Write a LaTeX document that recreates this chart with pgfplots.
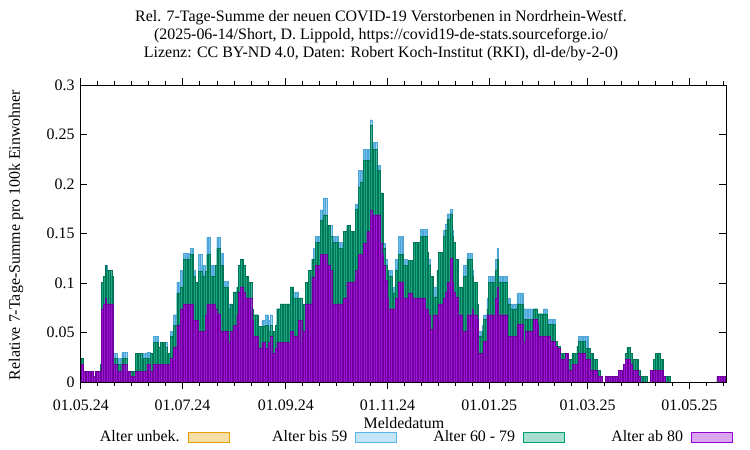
\documentclass[border=0pt]{standalone}
\usepackage{pgfplots}
\pgfplotsset{compat=1.18}
\usepackage{pgfplotstable}
\usepackage{fontspec}
\setmainfont{Liberation Serif}
\definecolor{vio}{HTML}{9400D3}
\definecolor{grn}{HTML}{009E73}
\definecolor{blu}{HTML}{56B4E9}
\definecolor{org}{HTML}{E69F00}
% d = days since 01.05.24; p = top of ab 80; g = top of 60-79; b = top of bis 59
\pgfplotstableread{
d p g b
0 .018 .024 .024
1 .018 .024 .024
2 .011 .011 .011
3 .011 .011 .011
4 .011 .011 .011
5 .011 .011 .011
6 .011 .011 .011
7 .011 .011 .011
8 .0056 .0056 .0056
9 .011 .011 .011
10 .011 .011 .011
11 .011 .011 .011
12 .011 .018 .018
13 .074 .101 .101
14 .079 .107 .107
15 .085 .118 .118
16 .079 .113 .113
17 .079 .113 .113
18 .079 .113 .113
19 .079 .107 .107
20 .018 .024 .029
21 .018 .024 .029
22 .011 .018 .024
23 .011 .018 .024
24 .011 .018 .024
25 .018 .024 .030
26 .018 .024 .030
27 .018 .024 .030
28 .011 .011 .011
29 .011 .011 .011
30 .0056 .011 .011
31 .0056 .011 .011
32 .0056 .011 .011
33 .011 .029 .029
34 .011 .029 .029
35 .011 .029 .029
36 .011 .029 .029
37 .011 .024 .029
38 .011 .024 .029
39 .011 .024 .029
40 .018 .024 .030
41 .018 .024 .030
42 .011 .029 .029
43 .011 .029 .029
44 .018 .040 .046
45 .018 .040 .046
46 .018 .040 .046
47 .018 .035 .035
48 .018 .040 .040
49 .018 .040 .040
50 .018 .040 .040
51 .018 .035 .040
52 .018 .029 .029
53 .018 .029 .029
54 .024 .046 .051
55 .024 .046 .051
56 .035 .057 .068
57 .035 .057 .068
58 .057 .090 .101
59 .057 .090 .101
60 .074 .096 .113
61 .074 .096 .113
62 .079 .124 .130
63 .079 .124 .130
64 .079 .124 .130
65 .079 .124 .130
66 .079 .129 .135
67 .079 .129 .135
68 .062 .107 .113
69 .062 .101 .101
70 .062 .101 .101
71 .051 .112 .129
72 .051 .112 .129
73 .051 .107 .118
74 .051 .107 .118
75 .068 .112 .112
76 .079 .129 .146
77 .079 .129 .146
78 .079 .107 .118
79 .079 .107 .118
80 .079 .107 .118
81 .074 .118 .118
82 .069 .135 .146
83 .069 .135 .146
84 .051 .118 .130
85 .051 .118 .130
86 .051 .096 .102
87 .051 .096 .102
88 .051 .096 .102
89 .040 .074 .079
90 .051 .079 .079
91 .051 .079 .079
92 .057 .091 .091
93 .057 .091 .091
94 .068 .096 .096
95 .091 .118 .118
96 .096 .124 .124
97 .096 .124 .124
98 .091 .118 .118
99 .085 .107 .107
100 .085 .107 .107
101 .085 .101 .101
102 .085 .101 .101
103 .062 .074 .074
104 .046 .068 .068
105 .046 .068 .068
106 .046 .068 .068
107 .034 .056 .056
108 .034 .056 .056
109 .040 .056 .062
110 .040 .056 .062
111 .034 .057 .068
112 .034 .057 .068
113 .040 .051 .062
114 .046 .057 .068
115 .029 .051 .051
116 .029 .051 .051
117 .034 .057 .057
118 .040 .074 .074
119 .040 .074 .074
120 .040 .079 .079
121 .040 .079 .079
122 .040 .079 .079
123 .040 .079 .079
124 .040 .079 .079
125 .040 .079 .079
126 .051 .096 .096
127 .051 .096 .096
128 .046 .085 .091
129 .046 .085 .091
130 .046 .085 .091
131 .062 .085 .085
132 .062 .085 .085
133 .040 .063 .063
134 .051 .079 .079
135 .079 .101 .101
136 .079 .101 .101
137 .079 .113 .113
138 .079 .113 .113
139 .106 .124 .124
140 .106 .124 .135
141 .118 .141 .147
142 .118 .141 .147
143 .118 .141 .147
144 .129 .163 .174
145 .129 .163 .174
146 .129 .169 .186
147 .129 .169 .186
148 .118 .158 .158
149 .118 .158 .158
150 .113 .147 .158
151 .079 .135 .141
152 .079 .141 .147
153 .079 .141 .147
154 .079 .141 .147
155 .079 .135 .141
156 .079 .135 .141
157 .079 .135 .141
158 .085 .152 .152
159 .085 .152 .152
160 .101 .158 .158
161 .101 .158 .158
162 .101 .152 .152
163 .101 .152 .152
164 .101 .152 .152
165 .113 .175 .180
166 .107 .175 .180
167 .129 .197 .214
168 .129 .202 .214
169 .129 .202 .214
170 .140 .224 .235
171 .140 .224 .235
172 .152 .224 .235
173 .152 .224 .235
174 .174 .259 .265
175 .169 .235 .242
176 .169 .235 .242
177 .169 .235 .242
178 .169 .214 .219
179 .169 .214 .219
180 .140 .191 .191
181 .129 .191 .191
182 .118 .135 .140
183 .103 .118 .124
184 .085 .113 .113
185 .074 .107 .113
186 .074 .107 .113
187 .074 .090 .096
188 .074 .090 .096
189 .085 .113 .124
190 .085 .113 .124
191 .101 .129 .147
192 .101 .129 .147
193 .101 .129 .147
194 .085 .118 .124
195 .085 .118 .124
196 .074 .113 .118
197 .090 .123 .123
198 .090 .123 .123
199 .079 .113 .113
200 .085 .141 .141
201 .085 .141 .141
202 .085 .141 .141
203 .085 .141 .141
204 .085 .147 .154
205 .085 .147 .154
206 .085 .147 .154
207 .074 .147 .154
208 .074 .131 .131
209 .068 .118 .124
210 .053 .107 .107
211 .053 .107 .107
212 .068 .086 .096
213 .068 .086 .096
214 .062 .113 .113
215 .079 .131 .131
216 .079 .131 .131
217 .079 .131 .131
218 .085 .147 .153
219 .091 .153 .159
220 .101 .164 .170
221 .101 .164 .170
222 .125 .170 .175
223 .101 .147 .153
224 .091 .141 .141
225 .086 .124 .124
226 .086 .124 .124
227 .068 .096 .096
228 .068 .096 .096
229 .035 .074 .074
230 .051 .107 .118
231 .051 .107 .118
232 .068 .124 .130
233 .068 .124 .130
234 .068 .124 .130
235 .074 .107 .113
236 .068 .101 .101
237 .068 .101 .101
238 .063 .079 .079
239 .029 .046 .051
240 .029 .046 .051
241 .029 .051 .057
242 .041 .063 .068
243 .041 .063 .068
244 .068 .074 .085
245 .068 .101 .107
246 .068 .101 .107
247 .068 .101 .107
248 .068 .101 .107
249 .085 .113 .124
250 .096 .124 .135
251 .068 .101 .107
252 .068 .101 .107
253 .068 .101 .107
254 .068 .101 .107
255 .068 .101 .107
256 .046 .079 .085
257 .046 .079 .085
258 .046 .074 .079
259 .046 .074 .079
260 .046 .074 .079
261 .046 .074 .079
262 .058 .079 .090
263 .058 .079 .090
264 .058 .079 .090
265 .058 .079 .090
266 .040 .063 .074
267 .051 .063 .074
268 .051 .063 .074
269 .051 .063 .074
270 .051 .063 .074
271 .046 .063 .063
272 .063 .074 .074
273 .063 .074 .074
274 .058 .069 .069
275 .046 .069 .069
276 .046 .069 .069
277 .046 .069 .069
278 .046 .069 .074
279 .046 .069 .074
280 .046 .058 .063
281 .046 .058 .063
282 .041 .058 .063
283 .041 .058 .063
284 .041 .058 .063
285 .036 .041 .041
286 .034 .036 .036
287 .034 .036 .036
288 .023 .029 .029
289 .023 .029 .029
290 .023 .029 .029
291 .029 .029 .029
292 .029 .029 .029
293 .012 .023 .023
294 .012 .023 .023
295 .018 .029 .029
296 .018 .029 .029
297 .018 .029 .029
298 .018 .036 .036
299 .029 .041 .046
300 .029 .041 .046
301 .029 .041 .046
302 .029 .041 .046
303 .023 .034 .046
304 .023 .034 .046
305 .023 .034 .034
306 .012 .029 .029
307 .012 .029 .029
308 .012 .023 .023
309 .012 .023 .023
310 .0056 .012 .012
311 .0056 .012 .012
312 .0056 .0056 .0056
315 .0056 .0056 .0056
316 .0056 .0056 .0056
317 .0056 .0056 .0056
318 .0056 .0056 .0056
319 .0056 .0056 .0056
320 .0056 .0056 .0056
321 .0056 .0056 .0056
322 .0056 .0056 .0056
323 .012 .012 .012
324 .012 .012 .012
325 .012 .012 .012
326 .018 .018 .018
327 .023 .029 .029
328 .023 .035 .035
329 .023 .035 .035
330 .018 .029 .029
331 .012 .023 .023
332 .012 .023 .023
333 .012 .023 .023
334 .012 .023 .023
335 .0056 .012 .012
336 0 .0056 .0056
337 0 .0056 .0056
338 0 .0056 .0056
339 0 .0056 .0056
342 .012 .012 .012
343 .012 .012 .012
344 .012 .023 .023
345 .012 .029 .029
346 .012 .029 .029
347 .012 .029 .029
348 .012 .023 .023
349 .012 .023 .023
350 .0056 .0056 .0056
351 0 .0056 .0056
352 0 .0056 .0056
353 0 .0056 .0056
382 .0056 .0056 .0056
383 .0056 .0056 .0056
384 .0056 .0056 .0056
385 .0056 .0056 .0056
386 .0056 .0056 .0056
}\datatable
\begin{document}
\fontsize{16}{18}\selectfont
\begin{tikzpicture}
\useasboundingbox (0,0) rectangle (750bp,450bp);
\begin{axis}[
  at={(80bp,68bp)}, anchor=south west,
  scale only axis, width=646bp, height=297bp,
  xmin=-0.5, xmax=387, ymin=0, ymax=0.3,
  axis on top,
  axis line style={line width=0.9bp},
  tick style={black, line width=0.8bp},
  major tick length=7bp, minor tick length=4bp,
  tick align=inside,
  xtick={0,61,123,184,245,304,365},
  xticklabels={01.05.24,01.07.24,01.09.24,01.11.24,01.01.25,01.03.25,01.05.25},
  minor xtick={10.2,20.3,30.5,40.7,50.8,71.3,81.7,92,102.3,112.7,133.2,143.3,153.5,163.7,173.8,194.2,204.3,214.5,224.7,234.8,254.8,264.7,274.5,284.3,294.2,314.2,324.3,334.5,344.7,354.8,375.2,385.3},
  ytick={0,0.05,0.1,0.15,0.2,0.25,0.3},
  yticklabels={0,0.05,0.1,0.15,0.2,0.25,0.3},
  scaled y ticks=false,
  xticklabel style={yshift=-5bp},
  /pgf/number format/assume math mode=true,
  title={Rel. 7-Tage-Summe der neuen COVID-19 Verstorbenen in Nordrhein-Westf.\\(2025-06-14/Short, D. Lippold, https://covid19-de-stats.sourceforge.io/\\Lizenz: CC BY-ND 4.0, Daten: Robert Koch-Institut (RKI), dl-de/by-2-0)},
  title style={align=center, anchor=south, at={(0.5,1)}, inner sep=0pt, yshift=18bp, xshift=-22bp},
  xlabel={Meldedatum},
  ylabel={Relative 7-Tage-Summe pro 100k Einwohner},
  every axis x label/.style={at={(axis description cs:0.5015,-0.138)}, anchor=center},
  every axis y label/.style={at={(axis description cs:-0.0991,0.495)}, anchor=center, rotate=90},
  legend plot pos=right,
  legend columns=4,
  legend style={draw=none, fill=none, at={(1.0108,-0.185)}, anchor=east, inner sep=0pt,
    nodes={inner sep=0pt},
    /tikz/every odd column/.append style={column sep=8bp}},
  ybar, bar width=1,
]
\addlegendimage{legend image code/.code={\draw[draw=org, line width=0.8bp, fill=org!35] (0bp,-5bp) rectangle (41bp,5bp);}}
\addlegendentry{\makebox[118bp][r]{Alter unbek.}}
\addplot[bar shift=0pt, fill=blu!85!white, draw=blu!92!black, line width=0.3bp,
  legend image code/.code={\draw[draw=blu, line width=0.8bp, fill=blu!35] (0bp,-5bp) rectangle (41bp,5bp);}]
  table[x=d, y=b]{\datatable};
\addlegendentry{\makebox[118bp][r]{Alter bis 59}}
\addplot[bar shift=0pt, fill=grn!90!white, draw=grn!75!black, line width=0.35bp,
  legend image code/.code={\draw[draw=grn, line width=0.8bp, fill=grn!35] (0bp,-5bp) rectangle (41bp,5bp);}]
  table[x=d, y=g]{\datatable};
\addlegendentry{\makebox[118bp][r]{Alter 60 - 79}}
\addplot[bar shift=0pt, fill=vio!92!white, draw=vio!75!black, line width=0.35bp,
  legend image code/.code={\draw[draw=vio, line width=0.8bp, fill=vio!35] (0bp,-5bp) rectangle (41bp,5bp);}]
  table[x=d, y=p]{\datatable};
\addlegendentry{\makebox[118bp][r]{Alter ab 80}}
\end{axis}
\end{tikzpicture}
\end{document}
